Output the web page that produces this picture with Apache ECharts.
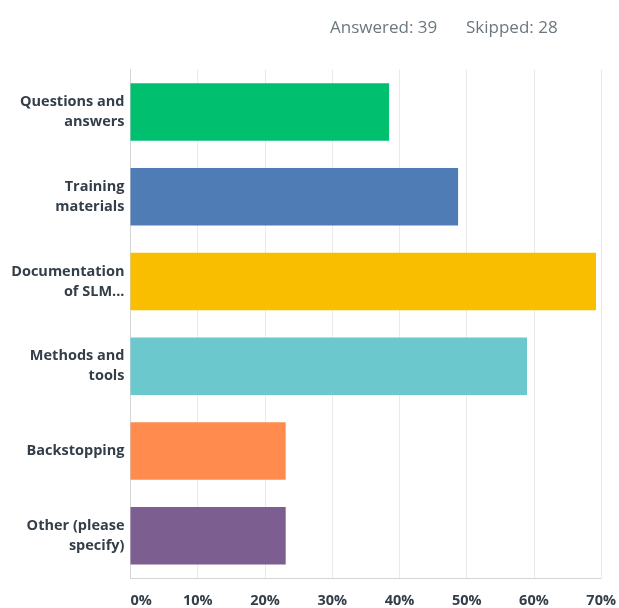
<!DOCTYPE html>
<html><head><meta charset="utf-8">
<script src="https://cdn.jsdelivr.net/npm/echarts@6/dist/echarts.min.js"></script>
<style>html,body{margin:0;padding:0;background:#fff}#c{width:619px;height:608px}</style>
</head><body><div id="c"></div>
<script>
const categories = ["Questions and\nanswers","Training\nmaterials","Documentation\nof SLM...","Methods and\ntools","Backstopping","Other (please\nspecify)"];
const values = [38.46, 48.72, 69.23, 58.97, 23.08, 23.08];
const colors = ["#00BF6F","#507CB6","#F9BE00","#6BC8CD","#FF8B4F","#7D5E90"];
const tickLabels = ["0%","10%","20%","30%","40%","50%","60%","70%"];
const headerTexts = ["Answered: 39","Skipped: 28"];

const chart = echarts.init(document.getElementById('c'), null, {renderer:'canvas'});
chart.setOption({
  animation:false,
  title:[
    {text:headerTexts[0], left:325, top:15, textStyle:{fontFamily:'Open Sans', fontWeight:'normal', fontSize:17, color:'#6B787F'}},
    {text:headerTexts[1], left:461, top:15, textStyle:{fontFamily:'Open Sans', fontWeight:'normal', fontSize:17, color:'#6B787F'}}
  ],
  grid:{left:130.5, right:16, top:69.5, bottom:29.5, containLabel:false},
  xAxis:{
    type:'value', min:0, max:70, interval:10,
    axisLine:{show:true, lineStyle:{color:'#D5D5D5'}},
    axisTick:{show:false},
    splitLine:{show:true, lineStyle:{color:'#EAEAEA'}},
    axisLabel:{
      formatter:(v)=>tickLabels[Math.round(v/10)],
      fontFamily:'Open Sans', fontWeight:'bold', fontSize:14.5, color:'#333E48',
      margin:15, alignMinLabel:'left'
    }
  },
  yAxis:{
    type:'category', data:categories, inverse:true,
    axisLine:{show:true, lineStyle:{color:'#D5D5D5'}},
    axisTick:{show:false},
    axisLabel:{fontFamily:'Open Sans', fontWeight:'bold', fontSize:14.5, color:'#333E48', margin:6, lineHeight:20, align:'right'}
  },
  series:[{
    type:'bar', barWidth:57.5,
    data:values.map((v,i)=>({value:v, itemStyle:{color:colors[i]}})),
  }]
});
</script></body></html>
